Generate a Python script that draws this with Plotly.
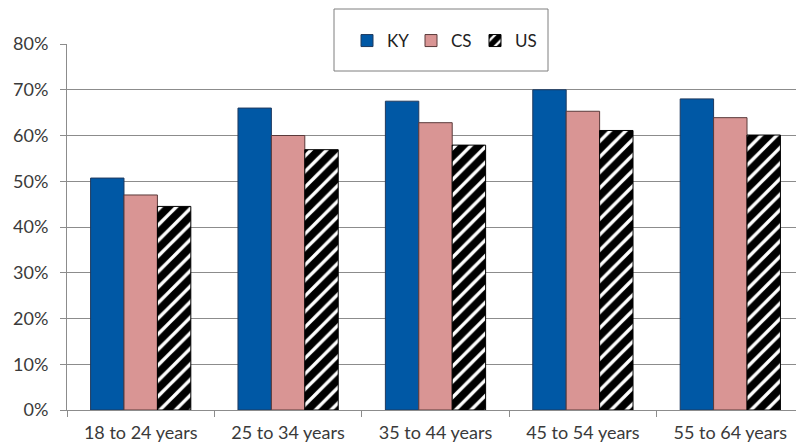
import plotly.graph_objects as go

categories = ["18 to 24 years", "25 to 34 years", "35 to 44 years", "45 to 54 years", "55 to 64 years"]
ky = [0.507, 0.660, 0.675, 0.700, 0.680]
cs = [0.470, 0.600, 0.628, 0.653, 0.639]
us = [0.445, 0.569, 0.579, 0.611, 0.601]
ytick_vals = [0, 0.1, 0.2, 0.3, 0.4, 0.5, 0.6, 0.7, 0.8]

# page body has an 8px margin; figure is sized/positioned to compensate
W, H = 796, 439

fig = go.Figure()
fig.add_bar(x=categories, y=ky, name="KY",
            marker=dict(color="#0058A5", line=dict(color="#1F3A5F", width=1)))
fig.add_bar(x=categories, y=cs, name="CS",
            marker=dict(color="#D99594", line=dict(color="#5A3A3A", width=1)))
fig.add_bar(x=categories, y=us, name="US",
            marker=dict(color="white", line=dict(color="#000000", width=1),
                        pattern=dict(shape="/", fgcolor="#000000", bgcolor="white",
                                     fgopacity=1, size=11, solidity=0.7)))

fig.update_layout(
    width=W, height=H,
    margin=dict(l=59, r=0, t=36, b=37, autoexpand=False),
    paper_bgcolor="white", plot_bgcolor="white",
    barmode="group", bargap=0.32, bargroupgap=0,
    font=dict(family="Lato, Open Sans, sans-serif", size=18, color="#3A3A3A"),
    showlegend=True,
    legend=dict(orientation="h", xref="container", yref="container",
                x=339 / W, xanchor="left", y=1 - 33 / H, yanchor="middle",
                bgcolor="rgba(0,0,0,0)", borderwidth=0,
                font=dict(size=17, color="#222222"),
                itemwidth=30, entrywidth=19, traceorder="normal"),
    shapes=[dict(type="rect", xref="paper", yref="paper",
                 x0=(334 - 67) / 737, x1=(548 - 67) / 737,
                 y0=(410 - 71) / 366, y1=(410 - 9) / 366,
                 fillcolor="white", line=dict(color="#7F7F7F", width=1), layer="above")],
)
fig.update_yaxes(range=[0, 0.8], tickvals=ytick_vals, tickformat=".0%",
                 showgrid=True, gridcolor="#8C8C8C", gridwidth=1,
                 showline=True, linecolor="#8C8C8C", linewidth=1,
                 ticks="outside", ticklen=6, tickcolor="#8C8C8C",
                 ticklabelstandoff=8,
                 zeroline=False, fixedrange=True)
fig.update_xaxes(showline=True, linecolor="#8C8C8C", linewidth=1,
                 ticks="outside", ticklen=6, tickcolor="#8C8C8C",
                 ticklabelstandoff=6,
                 tickson="boundaries", showgrid=False)

fig.write_html("out.html")
